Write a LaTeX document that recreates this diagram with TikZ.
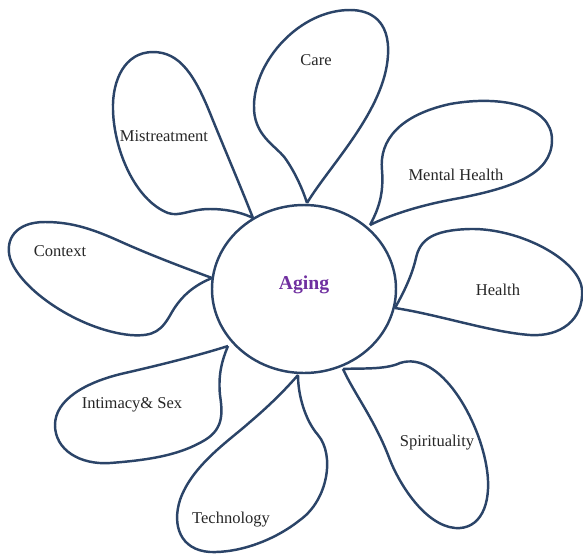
\documentclass[tikz,border=0pt]{standalone}
\usepackage{fontspec}
\setmainfont{Liberation Serif}
\usepackage{tikz}
\usepackage{xcolor}
\definecolor{petalblue}{HTML}{2B4468}
\definecolor{agingpurple}{HTML}{7030A0}
\tikzset{
  petal/.style={draw=petalblue, line width=1.4pt, line join=round},
  petallabel/.style={text=black!85, font=\fontsize{9.4}{11}\selectfont},
}

\begin{document}
\begin{tikzpicture}[x=0.02cm, y=0.02cm]
\tikzstyle{every node}+=[inner sep=0pt]
\useasboundingbox (0,0) rectangle (583,-556);
% centre
\draw [petal] (304,-289) ellipse (92 and 84);
\node (aging) at (304,-285) {\fontsize{11.2}{13}\selectfont\bfseries\color{agingpurple}Aging};
% care
\draw [petal] (307,-203) .. controls (330,-165) and (385,-110) .. (388,-55)
  .. controls (390,-20) and (370,-10) .. (350,-10)
  .. controls (300,-10) and (255,-60) .. (254,-105)
  .. controls (253,-135) and (275,-145) .. (285,-158)
  .. controls (295,-172) and (303,-190) .. (307,-203);
\node [petallabel] (care) at (316,-60) {Care};
% mistreatment
\draw [petal] (253,-218) .. controls (240,-185) and (225,-150) .. (212,-118)
  .. controls (195,-75) and (180,-52) .. (153,-52)
  .. controls (125,-52) and (112,-80) .. (113,-110)
  .. controls (114,-150) and (135,-200) .. (168,-213)
  .. controls (180,-217) and (190,-209) .. (210,-209)
  .. controls (230,-209) and (245,-214) .. (253,-218);
\node [petallabel] (mistreat) at (164,-136) {Mistreatment};
% mental health
\draw [petal] (370,-225) .. controls (378,-210) and (384,-195) .. (382,-170)
  .. controls (379,-140) and (400,-115) .. (450,-104)
  .. controls (500,-95) and (552,-105) .. (552,-140)
  .. controls (552,-175) and (510,-188) .. (460,-198)
  .. controls (420,-205) and (390,-215) .. (370,-225);
\node [petallabel] (mental) at (456,-175) {Mental Health};
% health
\draw [petal] (395,-308) .. controls (405,-290) and (412,-275) .. (416,-258)
  .. controls (420,-240) and (432,-230) .. (470,-229)
  .. controls (520,-228) and (580,-260) .. (582,-290)
  .. controls (584,-320) and (560,-337) .. (530,-335)
  .. controls (490,-332) and (440,-315) .. (395,-308);
\node [petallabel] (health) at (498,-290) {Health};
% spirituality
\draw [petal] (343,-369) .. controls (360,-368) and (385,-370) .. (400,-363)
  .. controls (440,-350) and (480,-420) .. (487,-470)
  .. controls (492,-505) and (480,-530) .. (455,-528)
  .. controls (425,-525) and (400,-485) .. (390,-460)
  .. controls (375,-420) and (355,-395) .. (343,-369);
\node [petallabel] (spirit) at (437,-443) {Spirituality};
% technology
\draw [petal] (298,-375) .. controls (298,-395) and (305,-420) .. (318,-435)
  .. controls (335,-455) and (328,-500) .. (300,-520)
  .. controls (275,-540) and (240,-553) .. (210,-552)
  .. controls (180,-550) and (172,-525) .. (180,-500)
  .. controls (192,-465) and (230,-440) .. (250,-422)
  .. controls (270,-405) and (285,-390) .. (298,-375);
\node [petallabel] (tech) at (231,-520) {Technology};
% intimacy and sex
\draw [petal] (228,-346) .. controls (200,-355) and (160,-365) .. (125,-373)
  .. controls (85,-382) and (55,-400) .. (55,-425)
  .. controls (55,-450) and (80,-465) .. (110,-463)
  .. controls (150,-460) and (180,-455) .. (205,-440)
  .. controls (225,-428) and (222,-410) .. (220,-395)
  .. controls (218,-375) and (222,-360) .. (228,-346);
\node [petallabel] (intimacy) at (132,-405) {Intimacy\& Sex};
% context
\draw [petal] (212,-278) .. controls (185,-268) and (150,-255) .. (117,-240)
  .. controls (90,-228) and (70,-222) .. (45,-222)
  .. controls (15,-222) and (5,-240) .. (10,-258)
  .. controls (20,-290) and (80,-330) .. (130,-335)
  .. controls (155,-337) and (162,-330) .. (172,-312)
  .. controls (182,-295) and (195,-285) .. (212,-278);
\node [petallabel] (context) at (60,-251) {Context};
\end{tikzpicture}
\end{document}
